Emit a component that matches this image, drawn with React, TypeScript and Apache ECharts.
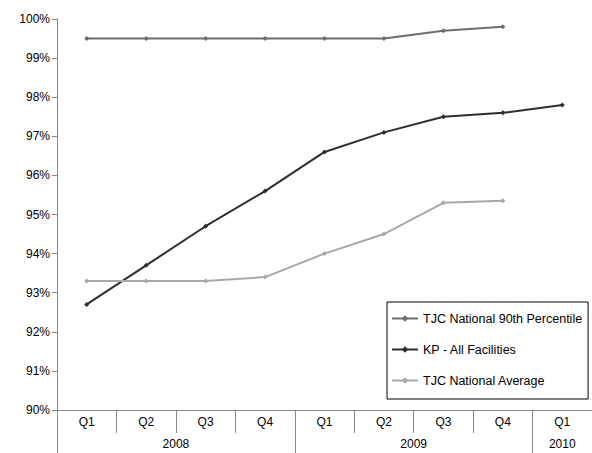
import React, { useEffect, useRef } from "react";
import * as echarts from "echarts";

const quarters = ["Q1", "Q2", "Q3", "Q4", "Q1", "Q2", "Q3", "Q4", "Q1"];
const yearLabels = ["2008", "2009", "2010"];
const yearCenters = [2, 6, 8.5];
const yearBounds = [0, 4, 8];
const tjc90 = [99.5, 99.5, 99.5, 99.5, 99.5, 99.5, 99.7, 99.8, null];
const kp = [92.7, 93.7, 94.7, 95.6, 96.6, 97.1, 97.5, 97.6, 97.8];
const tjcAvg = [93.3, 93.3, 93.3, 93.4, 94.0, 94.5, 95.3, 95.35, null];

export default function App() {
  const ref = useRef<HTMLDivElement>(null);
  useEffect(() => {
    const chart = echarts.init(ref.current!, null, { renderer: "svg" });
    const font = "Liberation Sans, Arial, sans-serif";
    const mk = (name: string, data: any[], color: string) => ({
      name,
      type: "line",
      data,
      symbol: "diamond",
      symbolSize: 5,
      showSymbol: true,
      connectNulls: false,
      lineStyle: { color, width: 2 },
      itemStyle: { color },
      xAxisIndex: 0,
      yAxisIndex: 0,
    });
    chart.setOption({
      animation: false,
      backgroundColor: "#fff",
      textStyle: { fontFamily: font },
      grid: { left: 57, right: 0, top: 19, bottom: 43, containLabel: false },
      legend: {
        orient: "vertical",
        left: 387,
        top: 302,
        padding: [10, 6, 12, 4],
        itemGap: 18,
        itemWidth: 26,
        itemHeight: 8,
        borderColor: "#000",
        borderWidth: 1,
        backgroundColor: "#fff",
        textStyle: { fontFamily: font, fontSize: 12.5, color: "#000" },
        data: ["TJC National 90th Percentile", "KP - All Facilities", "TJC National Average"],
      },
      xAxis: [
        {
          type: "category",
          data: quarters,
          boundaryGap: true,
          axisLine: { show: true, lineStyle: { color: "#888", width: 1 } },
          axisTick: { show: true, interval: 0, length: 23, lineStyle: { color: "#888" } },
          axisLabel: { interval: 0, fontSize: 12, color: "#000", margin: 6, fontFamily: font },
        },
        {
          type: "value",
          min: 0,
          max: 9,
          position: "bottom",
          splitLine: { show: false },
          axisLine: { show: false },
          axisTick: { show: true, customValues: yearBounds, length: 43, lineStyle: { color: "#888" } },
          axisLabel: {
            customValues: yearCenters,
            margin: 28,
            fontSize: 12,
            color: "#000",
            fontFamily: font,
            formatter: (v: number) => yearLabels[yearCenters.indexOf(v)] ?? "",
          },
        },
      ],
      yAxis: {
        type: "value",
        min: 90,
        max: 100,
        interval: 1,
        splitLine: { show: false },
        axisLine: { show: true, lineStyle: { color: "#888", width: 1 } },
        axisTick: { show: true, length: 5, lineStyle: { color: "#888" } },
        axisLabel: { formatter: (v: number) => `${v}%`, fontSize: 12, color: "#000", margin: 7, fontFamily: font },
      },
      series: [
        mk("TJC National 90th Percentile", tjc90, "#6e6e6e"),
        mk("KP - All Facilities", kp, "#2e2e2e"),
        mk("TJC National Average", tjcAvg, "#a8a8a8"),
      ],
    });
    return () => chart.dispose();
  }, []);
  return <div ref={ref} style={{ width: 592, height: 453, position: "absolute", left: 0, top: 0 }} />;
}
